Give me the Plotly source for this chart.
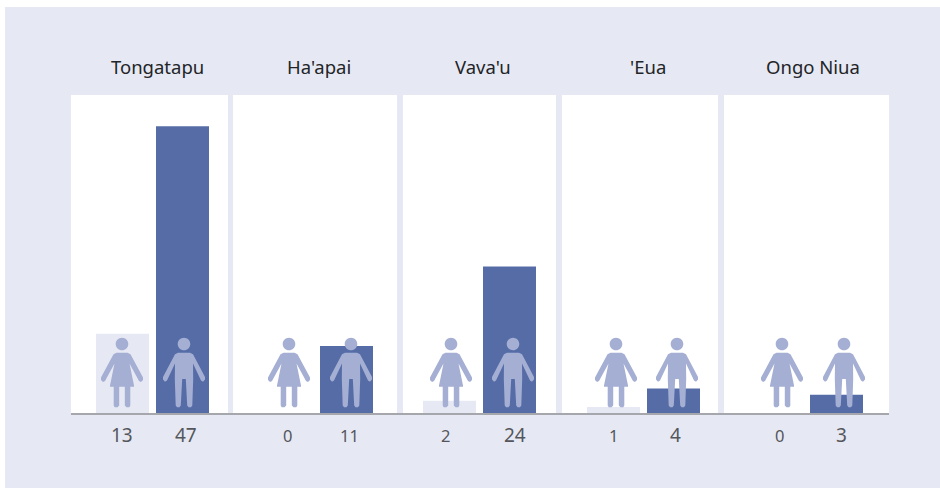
import plotly.graph_objects as go

regions = ["Tongatapu", "Ha'apai", "Vava'u", "'Eua", "Ongo Niua"]
sexes = ["Female", "Male"]
female = [13, 0, 2, 1, 0]
male = [47, 11, 24, 4, 3]

W, H = 940, 488
BG = "#e6e9f3"; MALE = "#556ca6"; ICON = "#a5aed3"
panels = [(71, 228), (233, 397), (403, 556), (562, 718), (724, 889)]
centers = [122.5, 286.5, 449.5, 613.5, 776.5]
title_x = [157, 318.5, 483, 648, 813]
f_icon = [122, 289, 451, 616, 782]
m_icon = [184, 351, 513, 677, 844]
f_lab = [122, 287, 445, 613, 779]
m_lab = [186, 349, 515, 675, 841]
SPACING, BARW = 60, 53
TOP, BASE = 95, 413
PER_UNIT = 6.1

def fs(v):
    return 19 if any(c in str(v) for c in "34789") or v == 13 else 16.5

def head(cx, cy, r):
    k = r * 0.5523
    return (f"M{cx},{cy+r} C{cx+k},{cy+r} {cx+r},{cy+k} {cx+r},{cy} C{cx+r},{cy-k} {cx+k},{cy-r} {cx},{cy-r} "
            f"C{cx-k},{cy-r} {cx-r},{cy-k} {cx-r},{cy} C{cx-r},{cy+k} {cx-k},{cy+r} {cx},{cy+r} Z ")

def outline(half):
    d = f"M0,{half[0][1]} "
    for seg in half:
        d += f"L{seg[0]},{seg[1]} "
    for x, y in reversed(half):
        d += f"L{-x},{y} "
    return d + "Z"

woman_half = [(0, 60.3), (5.5, 60.3), (8.5, 58.8), (21, 35.5), (21, 33), (19, 31), (17, 32),
              (7.5, 49.5), (12, 27.5), (12, 26.2), (8.3, 26.2), (8.3, 7.5), (7.3, 5.7), (4.5, 5.7), (2.8, 7.5), (2.8, 26.2), (0, 26.2)]
man_half = [(0, 60.3), (6, 60.3), (9, 58.8), (21, 36), (21, 33.5), (19, 31.3), (17, 32.5),
            (9, 49.5), (9.2, 34), (8.3, 7.5), (7, 5.7), (4.5, 5.7), (3.2, 7.5), (1.8, 34), (0, 34)]
woman = head(0, 69, 6.3) + outline(woman_half)
man = head(0, 69, 6.3) + outline(man_half)

fig = go.Figure()
shapes = [dict(type="rect", xref="paper", yref="paper", x0=0, x1=5/W, y0=0, y1=1, fillcolor="white", line_width=0, layer="above"),
          dict(type="rect", xref="paper", yref="paper", x0=0, x1=1, y0=1-7/H, y1=1, fillcolor="white", line_width=0, layer="above")]
ann = []
layout = {}
ydom = [(H-BASE)/H, (H-TOP)/H]
for i, name in enumerate(regions):
    s = "" if i == 0 else str(i+1)
    l, r = panels[i]; c = centers[i]
    fig.add_trace(go.Bar(x=sexes, y=[female[i], male[i]], xaxis="x"+s, yaxis="y"+s, width=BARW/SPACING,
                         marker=dict(color=[BG, MALE], line_width=0), showlegend=False))
    layout["xaxis"+s] = dict(domain=[l/W, r/W], range=[(l-c)/SPACING, (r-c)/SPACING], type="category",
                             categoryorder="array", categoryarray=sexes, showgrid=False, showline=False,
                             ticks="", showticklabels=False, zeroline=False, anchor="y"+s)
    layout["yaxis"+s] = dict(domain=ydom, range=[0, (BASE-TOP)/PER_UNIT], showgrid=False, showline=False,
                             ticks="", showticklabels=False, zeroline=False, anchor="x"+s)
    ann.append(dict(text=name, x=title_x[i]/W, y=(H-66.5)/H, xref="paper", yref="paper", showarrow=False,
                    xanchor="center", yanchor="middle", font=dict(size=18.5, color="#222428")))
    for xp, v in ((f_lab[i], female[i]), (m_lab[i], male[i])):
        ann.append(dict(text=str(v), x=xp/W, y=(H-435)/H, xref="paper", yref="paper", showarrow=False,
                        xanchor="center", yanchor="middle", font=dict(size=fs(v), color="#55565c")))
    for xp, path in ((f_icon[i], woman), (m_icon[i], man)):
        shapes.append(dict(type="path", xsizemode="pixel", ysizemode="pixel", xanchor=xp/W, yanchor=(H-BASE)/H,
                           xref="paper", yref="paper", path=path, fillcolor=ICON, line_width=0, layer="above"))
shapes.append(dict(type="rect", xref="paper", yref="paper", x0=71/W, x1=889/W, y0=(H-415)/H, y1=(H-413)/H,
                   fillcolor="#a6a6ad", line_width=0, layer="above"))

fig.update_layout(width=W, height=H, margin=dict(l=0, r=0, t=0, b=0), paper_bgcolor=BG,
                  plot_bgcolor="white", shapes=shapes, annotations=ann, barmode="overlay",
                  font=dict(family="Noto Sans"), **layout)
fig.write_html("out.html", config=dict(displayModeBar=False),
               post_script="document.body.style.margin='0';document.body.style.overflow='hidden';")
